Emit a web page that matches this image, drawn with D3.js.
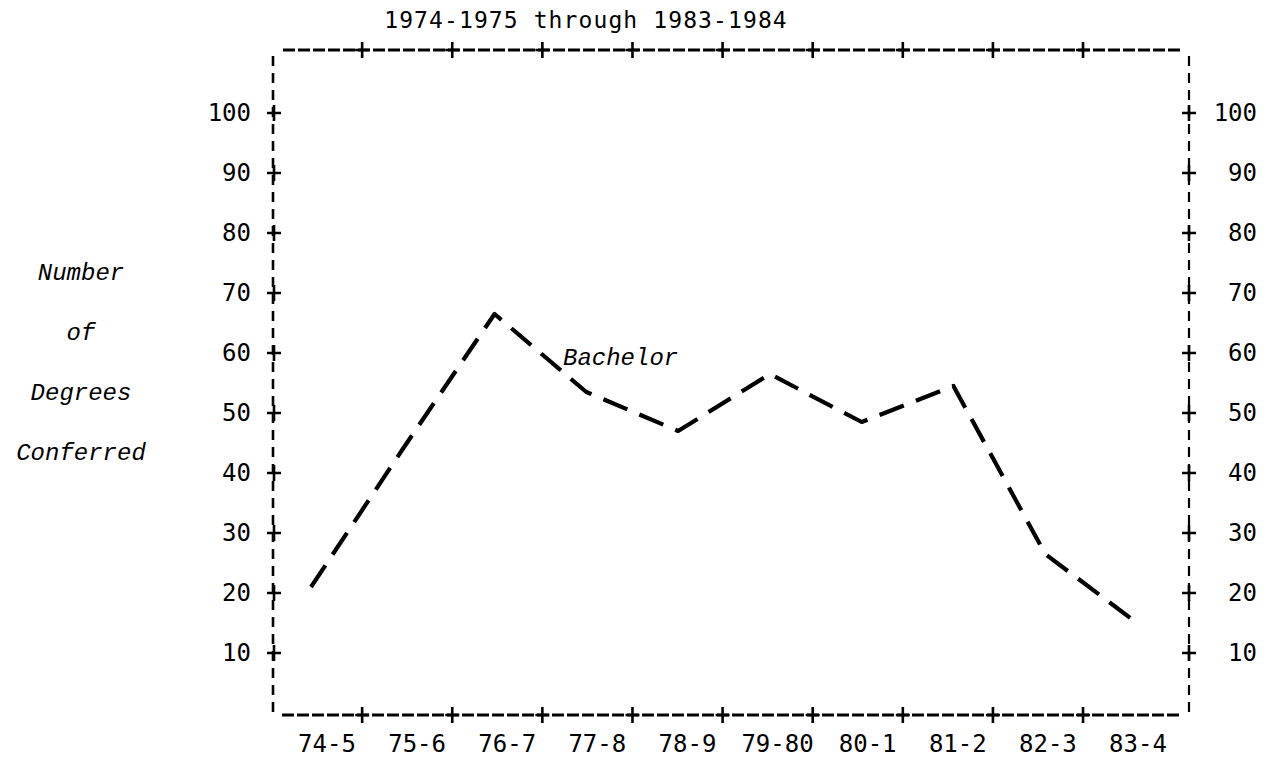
<!DOCTYPE html>
<html><head><meta charset="utf-8">
<script src="https://cdn.jsdelivr.net/npm/d3@7"></script>
<style>body{margin:0;background:#fff}svg{display:block}</style>
</head><body>
<svg id="c" width="1274" height="759"></svg>
<script>
const categories = ["74-5","75-6","76-7","77-8","78-9","79-80","80-1","81-2","82-3","83-4"];
const bachelor = [21, 44, 66.5, 53.5, 47, 56.5, 48.5, 54.5, 26.5, 15];
const yTickValues = [10,20,30,40,50,60,70,80,90,100];
const title = "1974-1975 through 1983-1984";
const yTitle = ["Number","of","Degrees","Conferred"];
const seriesLabel = "Bachelor";

const svg = d3.select("#c");
const mono = "'DejaVu Sans Mono', monospace";
const ital = "'Liberation Mono', 'Courier New', monospace";

// scale for plotted points and a scale for the typed category labels
const x = d3.scalePoint().domain(categories).range([311, 1137]);
const xLab = d3.scalePoint().domain(categories).range([327, 1138]);
const y = d3.scaleLinear().domain([0, 110.5]).range([713, 50]);
const L = 273, R = 1189, T = y(110.5), B = y(0) + 2;

// frame (dashed, typewriter-like)
const frame = svg.append("g").attr("stroke", "#000").attr("fill", "none");
frame.append("line").attr("x1", L).attr("x2", L).attr("y1", T + 6).attr("y2", B - 3)
  .attr("stroke-width", 2.6).attr("stroke-dasharray", "10,7");
frame.append("line").attr("x1", R).attr("x2", R).attr("y1", T + 6).attr("y2", B - 3)
  .attr("stroke-width", 2.2).attr("stroke-dasharray", "10,7");
frame.append("line").attr("x1", L + 10).attr("x2", R - 7).attr("y1", T).attr("y2", T)
  .attr("stroke-width", 2.8).attr("stroke-dasharray", "12,3");
frame.append("line").attr("x1", L + 9).attr("x2", R - 8).attr("y1", B).attr("y2", B)
  .attr("stroke-width", 2.8).attr("stroke-dasharray", "12,3");

// plus-sign ticks
function plus(g, cx, cy) {
  g.append("path").attr("d", `M${cx-7},${cy}H${cx+7}M${cx},${cy-8}V${cy+8}`)
    .attr("stroke", "#000").attr("stroke-width", 2.6).attr("fill", "none");
}
const tg = svg.append("g");
yTickValues.forEach(v => { plus(tg, L + 1, y(v)); plus(tg, R, y(v)); });
const half = xLab.step() * 0.39;
categories.slice(0, -1).forEach(c => { plus(tg, xLab(c) + half, T); plus(tg, xLab(c) + half, B); });

// tick labels
const lab = svg.append("g").attr("font-family", mono).attr("font-size", 24).attr("fill", "#000");
lab.selectAll(".yl").data(yTickValues).join("text")
  .attr("x", 251).attr("y", d => y(d) + 8).attr("text-anchor", "end").text(d => d);
lab.selectAll(".yr").data(yTickValues).join("text")
  .attr("x", 1257).attr("y", d => y(d) + 8).attr("text-anchor", "end").text(d => d);
lab.selectAll(".xl").data(categories).join("text")
  .attr("x", d => xLab(d)).attr("y", 752).attr("text-anchor", "middle").text(d => d);

// title
svg.append("text").attr("x", 586).attr("y", 28).attr("text-anchor", "middle")
  .attr("font-family", mono).attr("font-size", 23).attr("letter-spacing", 1.1).text(title);

// y axis title
svg.append("g").attr("font-family", ital).attr("font-style", "italic").attr("font-size", 24)
  .selectAll("text").data(yTitle).join("text")
  .attr("x", 81).attr("y", (d, i) => 280 + i * 60).attr("text-anchor", "middle").text(d => d);

// series line
const line = d3.line().x((d, i) => x(categories[i])).y(d => y(d));
svg.append("path").datum(bachelor).attr("d", line)
  .attr("fill", "none").attr("stroke", "#000").attr("stroke-width", 4.2)
  .attr("stroke-dasharray", "26,13").attr("stroke-linejoin", "round");

// series label
svg.append("text").attr("x", 563).attr("y", 365)
  .attr("font-family", ital).attr("font-style", "italic").attr("font-size", 24).text(seriesLabel);
</script>
</body></html>
